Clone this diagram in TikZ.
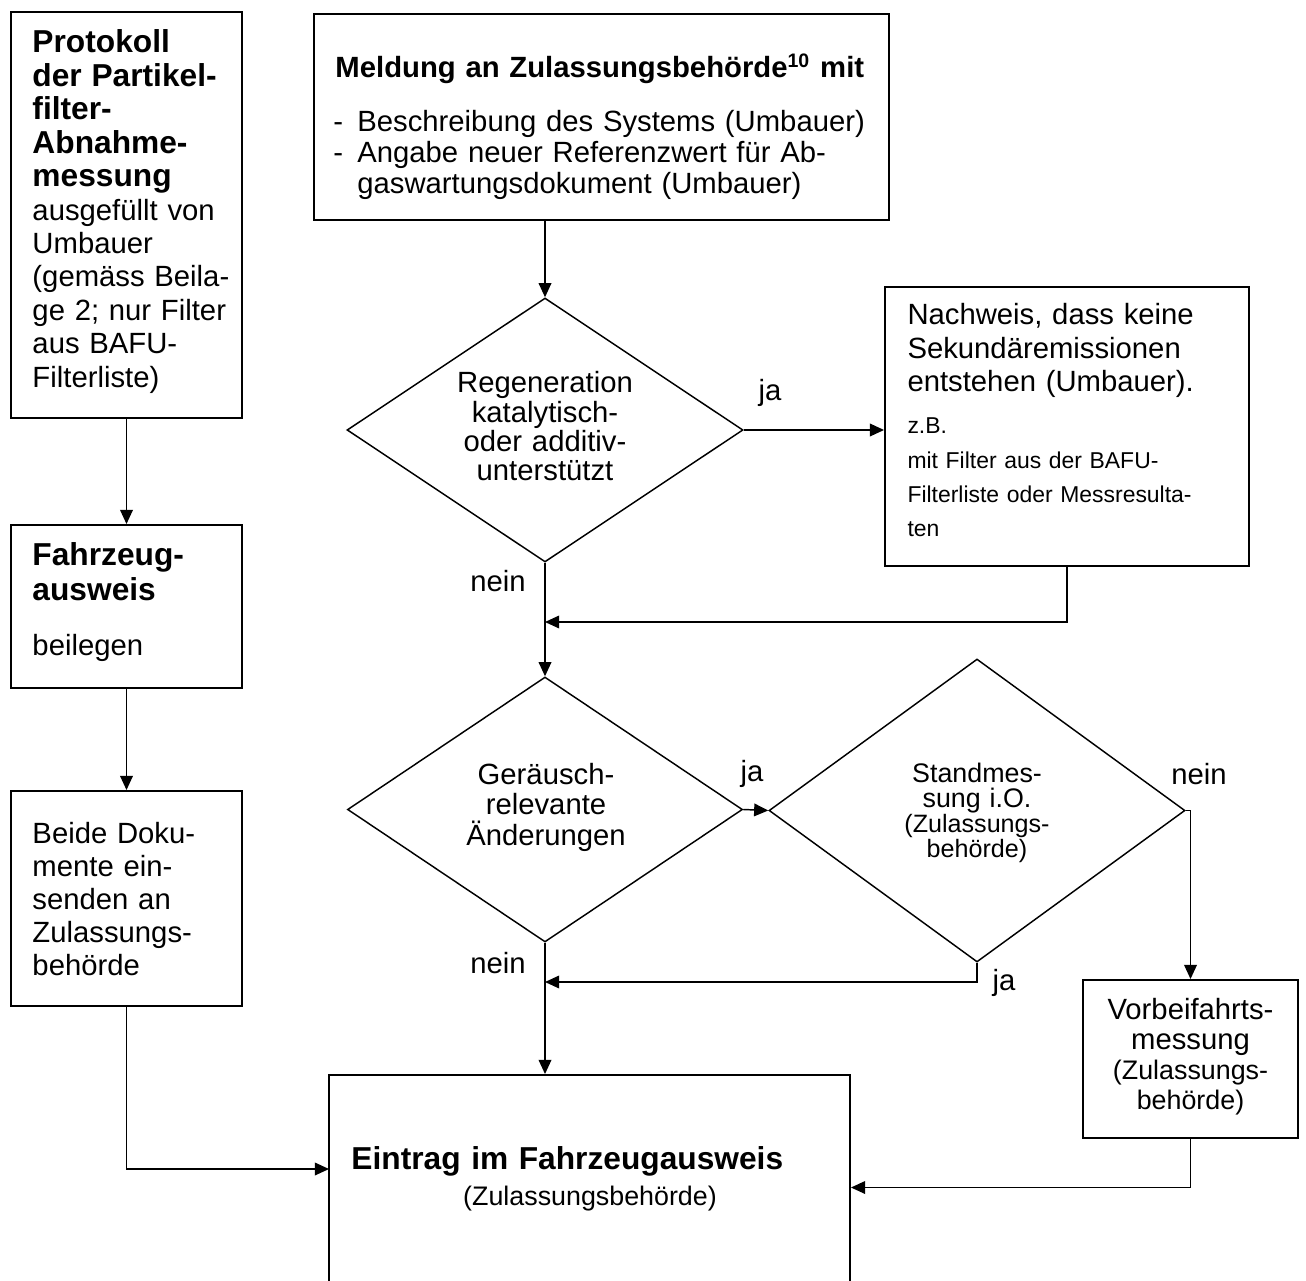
\documentclass[tikz,border=0pt]{standalone}
\usepackage{fontspec}
\setmainfont{Liberation Sans}
\usetikzlibrary{arrows.meta,shapes.geometric}

\def\pxu{0.41pt}
\newcommand{\fnt}[2]{\fontsize{#1}{#2}\selectfont}

\tikzset{
  box/.style={draw, line width=0.8pt, inner sep=0pt},
  decision/.style={draw, diamond, line width=0.6pt, inner sep=0pt},
  txt/.style={inner sep=0pt, text width=230pt, align=left, anchor=base west},
  ctxt/.style={inner sep=0pt, text width=120pt, align=center, anchor=base},
  lbl/.style={inner sep=0pt, font=\fnt{12}{14}},
  conn/.style={line width=0.6pt},
  arr/.style={conn, -{Triangle[length=5.8pt,width=5.2pt]}}
}

\begin{document}
\begin{tikzpicture}[x=0.41pt, y=-0.41pt]
  \useasboundingbox (0,0) rectangle (1306,1280);
  \clip (0,0) rectangle (1306,1280);

  % left column
  \node[box, minimum width=231*\pxu, minimum height=406*\pxu] (prot) at (126.5,215) {};
  \node[box, minimum width=231*\pxu, minimum height=163*\pxu] (fahr) at (126.5,606.5) {};
  \node[box, minimum width=231*\pxu, minimum height=215*\pxu] (beide) at (126.5,898.5) {};

  \node[txt, font=\fnt{12}{13.7}] (prottxt) at (32,53)
    {{\fnt{13}{13.7}\bfseries Protokoll\\ der Partikel-\\ filter-\\ Abnahme-\\ messung}\\
     ausgefüllt von\\ Umbauer\\ (gemäss Beila-\\ ge 2; nur Filter\\ aus BAFU-\\ Filterliste)};
  \node[txt, font=\fnt{13}{14.35}\bfseries] (fahrtxt) at (32,565) {Fahrzeug-\\ ausweis};
  \node[txt, font=\fnt{12}{14}] (fahrsub) at (32,655) {beilegen};
  \node[txt, font=\fnt{12}{13.6}] (beidetxt) at (32,843)
    {Beide Doku-\\ mente ein-\\ senden an\\ Zulassungs-\\ behörde};

  % main column
  \node[box, minimum width=575*\pxu, minimum height=206*\pxu] (meld) at (601.5,117) {};
  \node[txt, font=\fnt{12}{14}\bfseries] (meldtxt) at (335,78)
    {Meldung an Zulassungsbehörde\textsuperscript{10} mit};
  \node[txt, font=\fnt{12}{12.7}] (meldlist) at (333,132)
    {\makebox[9.8pt][l]{-}Beschreibung des Systems (Umbauer)\\
     \makebox[9.8pt][l]{-}Angabe neuer Referenzwert für Ab-\\
     \hspace*{9.8pt}gaswartungsdokument (Umbauer)};

  \node[decision, minimum width=396*\pxu, minimum height=264*\pxu] (reg) at (545,430) {};
  \node[ctxt, font=\fnt{12}{12}] (regtxt) at (545,393)
    {Regeneration\\ katalytisch-\\ oder additiv-\\ unterstützt};

  \node[box, minimum width=364*\pxu, minimum height=279*\pxu] (nach) at (1067,426.5) {};
  \node[txt, font=\fnt{12}{13.7}] (nachtxt) at (907,325)
    {Nachweis, dass keine\\ Sekundäremissionen\\ entstehen (Umbauer).};
  \node[txt, font=\fnt{9.4}{14}] (nachsub) at (907,434)
    {z.B.\\ mit Filter aus der BAFU-\\ Filterliste oder Messresulta-\\ ten};

  \node[decision, minimum width=395*\pxu, minimum height=265*\pxu] (ger) at (545,809.5) {};
  \node[ctxt, font=\fnt{12}{12.7}] (gertxt) at (546,784)
    {Geräusch-\\ relevante\\ Änderungen};

  \node[decision, minimum width=416*\pxu, minimum height=303*\pxu] (stand) at (977,810.5) {};
  \node[ctxt, font=\fnt{11}{10.3}] (standtxt) at (977,782)
    {Standmes-\\ sung i.O.\\ {\fnt{10.3}{10.3}(Zulassungs-}\\ {\fnt{10.3}{10.3}behörde)}};

  \node[box, minimum width=215*\pxu, minimum height=158*\pxu] (vorb) at (1190.5,1059) {};
  \node[ctxt, font=\fnt{12}{12.4}] (vorbtxt) at (1190.5,1019)
    {Vorbeifahrts-\\ messung\\ {\fnt{11}{12.4}(Zulassungs-}\\ {\fnt{11}{12.4}behörde)}};

  \node[box, minimum width=521*\pxu, minimum height=225*\pxu] (eint) at (589.5,1187.5) {};
  \node[txt, font=\fnt{13}{14}\bfseries] (einttxt) at (351,1169) {Eintrag im Fahrzeugausweis};
  \node[ctxt, font=\fnt{11}{13}] (eintsub) at (590,1205) {(Zulassungsbehörde)};

  % bends
  \coordinate (m1) at (545,622);
  \coordinate (m2) at (545,982);
  \coordinate (eintL) at (329,1169);

  % labels
  \node[lbl] (ja1) at (770,393) {ja};
  \node[lbl] (nein1) at (498,581) {nein};
  \node[lbl] (ja2) at (752,774) {ja};
  \node[lbl] (nein2) at (498,963) {nein};
  \node[lbl] (nein3) at (1199,774) {nein};
  \node[lbl] (ja3) at (1004,983) {ja};

  % arrows
  \draw[arr] (prot) -- (fahr);
  \draw[arr] (fahr) -- (beide);
  \draw[arr] (beide.south) |- (eintL);
  \draw[arr] (reg.north |- meld.south) -- (reg.north);
  \draw[arr] (reg.east) -- (nach.west |- reg.east);
  \draw[arr] (nach.south) |- (m1);
  \draw[arr] (reg.south) -- (ger.north);
  \draw[arr] (ger.east) -- (stand.west);
  \draw[arr] (stand.east) -| (vorb.north);
  \draw[arr] (stand.south) |- (m2);
  \draw[arr] (ger.south) -- (ger.south |- eint.north);
  \draw[arr] (vorb.south) |- (eint.east);
\end{tikzpicture}
\end{document}
